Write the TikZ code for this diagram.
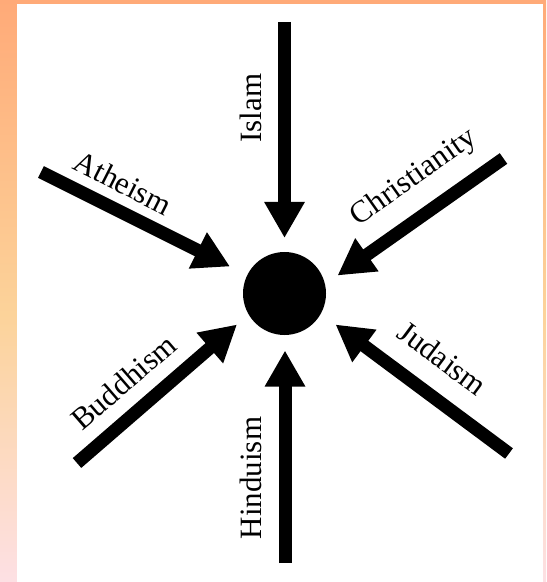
\documentclass[tikz,border=0pt]{standalone}
\usepackage{fontspec}
\setmainfont{Liberation Serif}
\usetikzlibrary{arrows.meta}
\definecolor{fOrange}{HTML}{FFAA78}
\definecolor{fPeach}{HTML}{FCD39A}
\definecolor{fPink}{HTML}{FDE0E4}
\pgfdeclareverticalshading{frameshade}{100bp}{color(0bp)=(fPink); color(25bp)=(fPink); color(48bp)=(fPeach); color(75bp)=(fOrange); color(100bp)=(fOrange)}
\tikzset{
  hub/.style={circle,fill=black,inner sep=0pt,minimum size=41.5pt},
  ray/.style={-{Triangle[length=18pt,width=19pt]},line width=6.5pt},
  faith/.style={font=\fontsize{15.5}{17}\selectfont,inner sep=1pt}}
\begin{document}
\begin{tikzpicture}[x=0.5pt,y=-0.5pt]
\useasboundingbox (0,0) rectangle (546,582);
% frame
\begin{scope}[y=0.5pt]
  \shade[shading=frameshade] (0,-582) rectangle (546,0);
  \fill[white] (17,-582) rectangle (543,-4);
\end{scope}
\node[hub] (core) at (284.5,293.5) {};
% arrow ends
\coordinate (islamTail) at (284.5,22);   \coordinate (islamTip) at (284.5,238);
\coordinate (hinduTail) at (285,563);    \coordinate (hinduTip) at (285,350.5);
\coordinate (atheTail) at (41,172);      \coordinate (atheTip) at (230,266.5);
\coordinate (chrisTail) at (503.5,158.5);\coordinate (chrisTip) at (337.5,275.5);
\coordinate (buddTail) at (77,463);      \coordinate (buddTip) at (237,324.5);
\coordinate (judaTail) at (509,453.5);   \coordinate (judaTip) at (335.5,324.5);
\draw[ray] (islamTail)--(islamTip); \draw[ray] (hinduTail)--(hinduTip);
\draw[ray] (atheTail)--(atheTip);   \draw[ray] (chrisTail)--(chrisTip);
\draw[ray] (buddTail)--(buddTip);   \draw[ray] (judaTail)--(judaTip);
% labels
\node[faith, rotate=90] (islam) at (251,108) {Islam};
\node[faith, rotate=90] (hindu) at (250.5,478) {Hinduism};
\node[faith, rotate=-26.9] (athe) at (123,183) {Atheism};
\node[faith, rotate=35.2] (chris) at (414,178) {Christianity};
\node[faith, rotate=40.9] (budd) at (123.5,382) {Buddhism};
\node[faith, rotate=-36.6] (juda) at (442.5,358) {Judaism};
\end{tikzpicture}
\end{document}
